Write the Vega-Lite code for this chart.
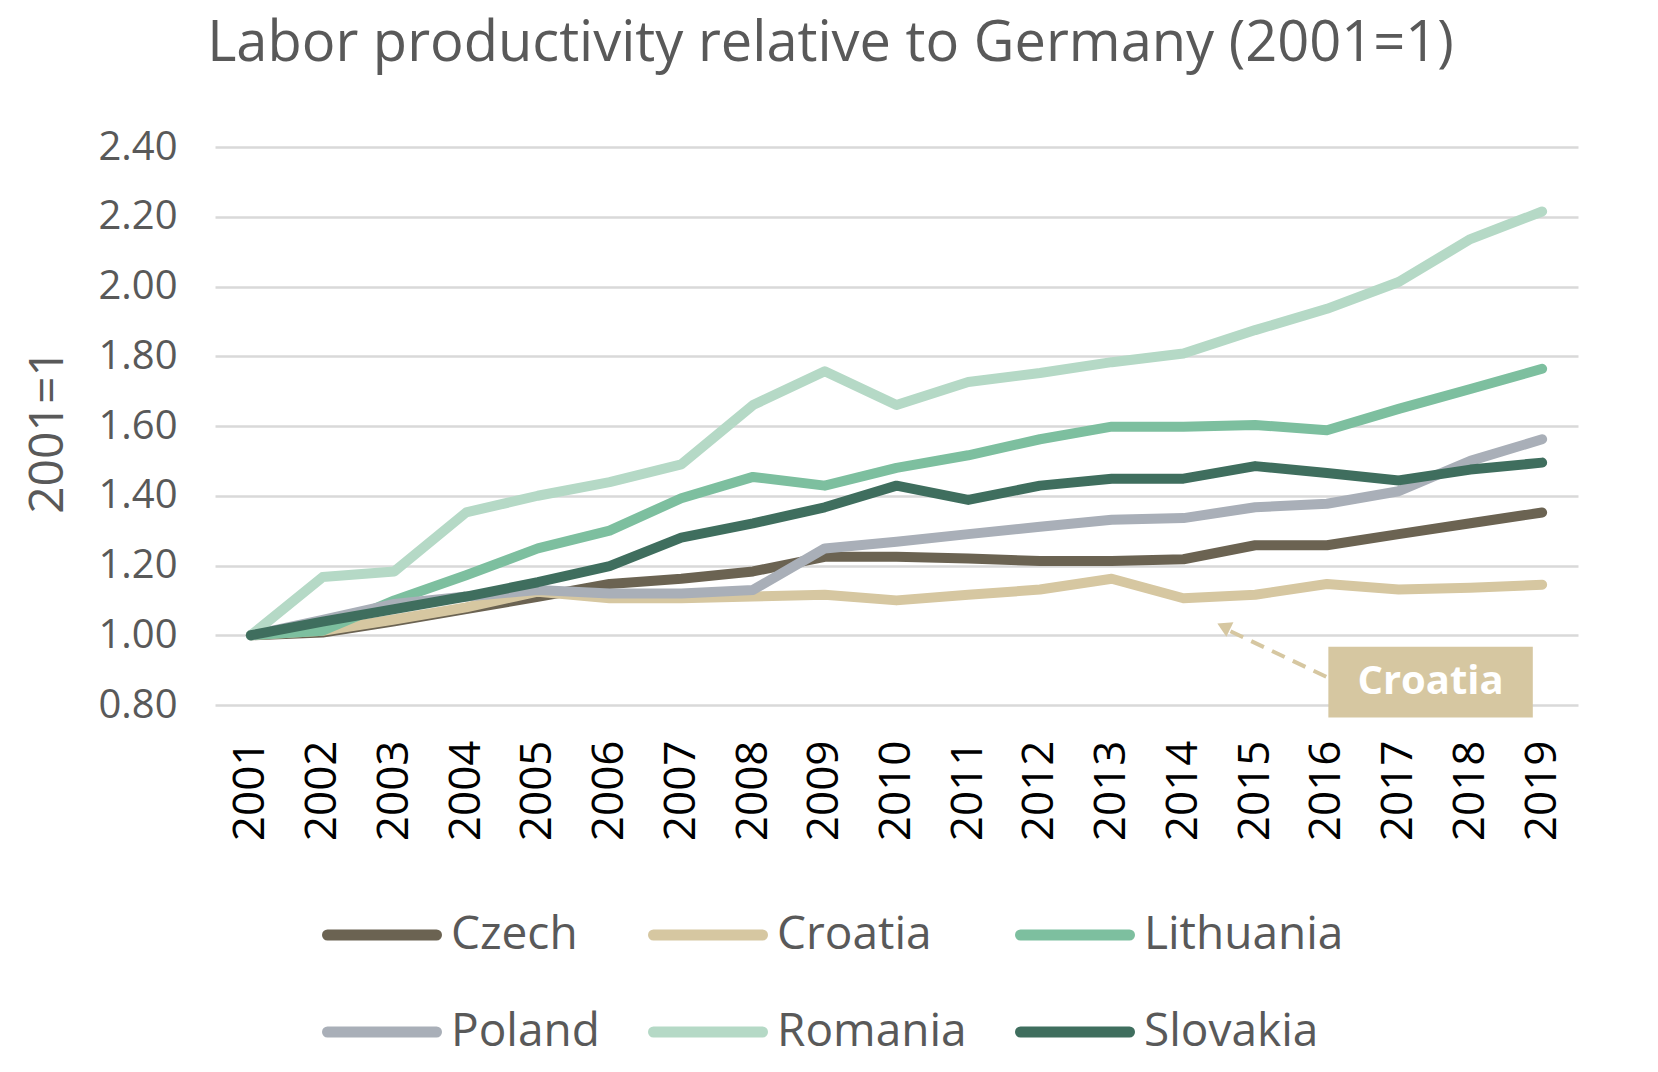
{
  "$schema": "https://vega.github.io/schema/vega-lite/v6.json",
  "width": 1363,
  "height": 558,
  "autosize": {"type": "none"},
  "padding": {"left": 215, "top": 147, "right": 80, "bottom": 367},
  "background": "white",
  "config": {"view": {"stroke": null}, "font": "Open Sans"},
  "title": {
    "text": "Labor productivity relative to Germany (2001=1)",
    "font": "Open Sans",
    "fontSize": 56,
    "fontWeight": "normal",
    "color": "#595959",
    "anchor": "middle",
    "frame": "group",
    "dx": -66,
    "offset": 54
  },
  "layer": [
    {
      "data": {
        "values": [
          {"country": "Czech", "year": 2001, "value": 1.0},
          {"country": "Czech", "year": 2002, "value": 1.008},
          {"country": "Czech", "year": 2003, "value": 1.04},
          {"country": "Czech", "year": 2004, "value": 1.075},
          {"country": "Czech", "year": 2005, "value": 1.11},
          {"country": "Czech", "year": 2006, "value": 1.147},
          {"country": "Czech", "year": 2007, "value": 1.162},
          {"country": "Czech", "year": 2008, "value": 1.183},
          {"country": "Czech", "year": 2009, "value": 1.225},
          {"country": "Czech", "year": 2010, "value": 1.225},
          {"country": "Czech", "year": 2011, "value": 1.22},
          {"country": "Czech", "year": 2012, "value": 1.213},
          {"country": "Czech", "year": 2013, "value": 1.213},
          {"country": "Czech", "year": 2014, "value": 1.218},
          {"country": "Czech", "year": 2015, "value": 1.258},
          {"country": "Czech", "year": 2016, "value": 1.258},
          {"country": "Czech", "year": 2017, "value": 1.29},
          {"country": "Czech", "year": 2018, "value": 1.321},
          {"country": "Czech", "year": 2019, "value": 1.352},
          {"country": "Croatia", "year": 2001, "value": 1.0},
          {"country": "Croatia", "year": 2002, "value": 1.013},
          {"country": "Croatia", "year": 2003, "value": 1.045},
          {"country": "Croatia", "year": 2004, "value": 1.08},
          {"country": "Croatia", "year": 2005, "value": 1.125},
          {"country": "Croatia", "year": 2006, "value": 1.106},
          {"country": "Croatia", "year": 2007, "value": 1.106},
          {"country": "Croatia", "year": 2008, "value": 1.111},
          {"country": "Croatia", "year": 2009, "value": 1.116},
          {"country": "Croatia", "year": 2010, "value": 1.1},
          {"country": "Croatia", "year": 2011, "value": 1.116},
          {"country": "Croatia", "year": 2012, "value": 1.131},
          {"country": "Croatia", "year": 2013, "value": 1.162},
          {"country": "Croatia", "year": 2014, "value": 1.106},
          {"country": "Croatia", "year": 2015, "value": 1.116},
          {"country": "Croatia", "year": 2016, "value": 1.147},
          {"country": "Croatia", "year": 2017, "value": 1.131},
          {"country": "Croatia", "year": 2018, "value": 1.136},
          {"country": "Croatia", "year": 2019, "value": 1.145},
          {"country": "Lithuania", "year": 2001, "value": 1.0},
          {"country": "Lithuania", "year": 2002, "value": 1.013},
          {"country": "Lithuania", "year": 2003, "value": 1.1},
          {"country": "Lithuania", "year": 2004, "value": 1.172},
          {"country": "Lithuania", "year": 2005, "value": 1.249},
          {"country": "Lithuania", "year": 2006, "value": 1.3},
          {"country": "Lithuania", "year": 2007, "value": 1.393},
          {"country": "Lithuania", "year": 2008, "value": 1.454},
          {"country": "Lithuania", "year": 2009, "value": 1.429},
          {"country": "Lithuania", "year": 2010, "value": 1.48},
          {"country": "Lithuania", "year": 2011, "value": 1.516},
          {"country": "Lithuania", "year": 2012, "value": 1.562},
          {"country": "Lithuania", "year": 2013, "value": 1.598},
          {"country": "Lithuania", "year": 2014, "value": 1.598},
          {"country": "Lithuania", "year": 2015, "value": 1.603},
          {"country": "Lithuania", "year": 2016, "value": 1.588},
          {"country": "Lithuania", "year": 2017, "value": 1.649},
          {"country": "Lithuania", "year": 2018, "value": 1.706},
          {"country": "Lithuania", "year": 2019, "value": 1.764},
          {"country": "Poland", "year": 2001, "value": 1.0},
          {"country": "Poland", "year": 2002, "value": 1.044},
          {"country": "Poland", "year": 2003, "value": 1.09},
          {"country": "Poland", "year": 2004, "value": 1.111},
          {"country": "Poland", "year": 2005, "value": 1.13},
          {"country": "Poland", "year": 2006, "value": 1.12},
          {"country": "Poland", "year": 2007, "value": 1.12},
          {"country": "Poland", "year": 2008, "value": 1.13},
          {"country": "Poland", "year": 2009, "value": 1.249},
          {"country": "Poland", "year": 2010, "value": 1.268},
          {"country": "Poland", "year": 2011, "value": 1.29},
          {"country": "Poland", "year": 2012, "value": 1.311},
          {"country": "Poland", "year": 2013, "value": 1.331},
          {"country": "Poland", "year": 2014, "value": 1.336},
          {"country": "Poland", "year": 2015, "value": 1.367},
          {"country": "Poland", "year": 2016, "value": 1.377},
          {"country": "Poland", "year": 2017, "value": 1.413},
          {"country": "Poland", "year": 2018, "value": 1.5},
          {"country": "Poland", "year": 2019, "value": 1.562},
          {"country": "Romania", "year": 2001, "value": 1.0},
          {"country": "Romania", "year": 2002, "value": 1.167},
          {"country": "Romania", "year": 2003, "value": 1.183},
          {"country": "Romania", "year": 2004, "value": 1.352},
          {"country": "Romania", "year": 2005, "value": 1.4},
          {"country": "Romania", "year": 2006, "value": 1.439},
          {"country": "Romania", "year": 2007, "value": 1.49},
          {"country": "Romania", "year": 2008, "value": 1.66},
          {"country": "Romania", "year": 2009, "value": 1.757},
          {"country": "Romania", "year": 2010, "value": 1.66},
          {"country": "Romania", "year": 2011, "value": 1.726},
          {"country": "Romania", "year": 2012, "value": 1.752},
          {"country": "Romania", "year": 2013, "value": 1.783},
          {"country": "Romania", "year": 2014, "value": 1.808},
          {"country": "Romania", "year": 2015, "value": 1.875},
          {"country": "Romania", "year": 2016, "value": 1.936},
          {"country": "Romania", "year": 2017, "value": 2.013},
          {"country": "Romania", "year": 2018, "value": 2.136},
          {"country": "Romania", "year": 2019, "value": 2.215},
          {"country": "Slovakia", "year": 2001, "value": 1.0},
          {"country": "Slovakia", "year": 2002, "value": 1.039},
          {"country": "Slovakia", "year": 2003, "value": 1.075},
          {"country": "Slovakia", "year": 2004, "value": 1.111},
          {"country": "Slovakia", "year": 2005, "value": 1.152},
          {"country": "Slovakia", "year": 2006, "value": 1.198},
          {"country": "Slovakia", "year": 2007, "value": 1.28},
          {"country": "Slovakia", "year": 2008, "value": 1.321},
          {"country": "Slovakia", "year": 2009, "value": 1.367},
          {"country": "Slovakia", "year": 2010, "value": 1.429},
          {"country": "Slovakia", "year": 2011, "value": 1.388},
          {"country": "Slovakia", "year": 2012, "value": 1.429},
          {"country": "Slovakia", "year": 2013, "value": 1.449},
          {"country": "Slovakia", "year": 2014, "value": 1.449},
          {"country": "Slovakia", "year": 2015, "value": 1.485},
          {"country": "Slovakia", "year": 2016, "value": 1.465},
          {"country": "Slovakia", "year": 2017, "value": 1.444},
          {"country": "Slovakia", "year": 2018, "value": 1.475},
          {"country": "Slovakia", "year": 2019, "value": 1.495}
        ]
      },
      "mark": {"type": "line", "strokeWidth": 10, "strokeCap": "round", "strokeJoin": "round"},
      "encoding": {
        "x": {
          "field": "year",
          "type": "quantitative",
          "scale": {"domain": [2000.5, 2019.5], "nice": false, "zero": false},
          "axis": {
            "title": null,
            "values": [2001, 2002, 2003, 2004, 2005, 2006, 2007, 2008, 2009, 2010, 2011, 2012, 2013, 2014, 2015, 2016, 2017, 2018, 2019],
            "format": "d",
            "labelAngle": -90,
            "labelFontSize": 44,
            "labelColor": "#000000",
            "labelPadding": 35,
            "labelFont": "Open Sans",
            "domain": false,
            "ticks": false,
            "grid": false
          }
        },
        "y": {
          "field": "value",
          "type": "quantitative",
          "scale": {"domain": [0.8, 2.4], "nice": false, "zero": false},
          "axis": {
            "title": "2001=1",
            "values": [0.8, 1.0, 1.2, 1.4, 1.6, 1.8, 2.0, 2.2, 2.4],
            "format": ".2f",
            "labelFontSize": 40,
            "labelColor": "#595959",
            "labelFont": "Open Sans",
            "labelPadding": 38,
            "domain": false,
            "ticks": false,
            "grid": true,
            "gridColor": "#d9d9d9",
            "gridWidth": 2.5,
            "titleFont": "Open Sans",
            "titleFontSize": 48,
            "titleFontWeight": "normal",
            "titleColor": "#595959",
            "titleX": -167,
            "titleY": 284,
            "titleAlign": "center",
            "titleBaseline": "middle"
          }
        },
        "color": {
          "field": "country",
          "type": "nominal",
          "scale": {
            "domain": ["Czech", "Croatia", "Lithuania", "Poland", "Romania", "Slovakia"],
            "range": ["#6b6352", "#d6c7a1", "#7dbf9f", "#a9afb8", "#b5d9c6", "#3f6e5e"]
          },
          "legend": {
            "title": null,
            "orient": "none",
            "legendX": 107,
            "legendY": 728,
            "direction": "horizontal",
            "columns": 3,
            "gridAlign": "each",
            "columnPadding": 31,
            "rowPadding": 14,
            "symbolType": "stroke",
            "symbolSize": 11881,
            "symbolStrokeWidth": 11,
            "labelFont": "Open Sans",
            "labelFontSize": 46,
            "labelColor": "#595959",
            "labelOffset": 9,
            "labelLimit": 400,
            "padding": 0,
            "encode": {"symbols": {"update": {"strokeCap": {"value": "round"}}}}
          }
        }
      }
    },
    {
      "data": {"values": [{}]},
      "mark": {"type": "rule", "strokeDash": [14, 9], "strokeWidth": 4, "color": "#d6c7a1"},
      "encoding": {
        "x": {"datum": 2015.99},
        "y": {"datum": 0.881},
        "x2": {"datum": 2014.62},
        "y2": {"datum": 1.015}
      }
    },
    {
      "data": {"values": [{}]},
      "mark": {"type": "point", "shape": "triangle-up", "filled": true, "size": 260, "color": "#d6c7a1", "opacity": 1, "angle": 296},
      "encoding": {
        "x": {"datum": 2014.56},
        "y": {"datum": 1.025}
      }
    },
    {
      "data": {"values": [{}]},
      "mark": {"type": "rect", "color": "#d6c7a1"},
      "encoding": {
        "x": {"datum": 2016.02},
        "x2": {"datum": 2018.87},
        "y": {"datum": 0.967},
        "y2": {"datum": 0.764}
      }
    },
    {
      "data": {"values": [{"label": "Croatia"}]},
      "mark": {"type": "text", "color": "white", "font": "Open Sans", "fontWeight": "bold", "fontSize": 40, "align": "center", "baseline": "middle"},
      "encoding": {
        "x": {"datum": 2017.445},
        "y": {"datum": 0.8655},
        "text": {"field": "label"}
      }
    }
  ]
}
